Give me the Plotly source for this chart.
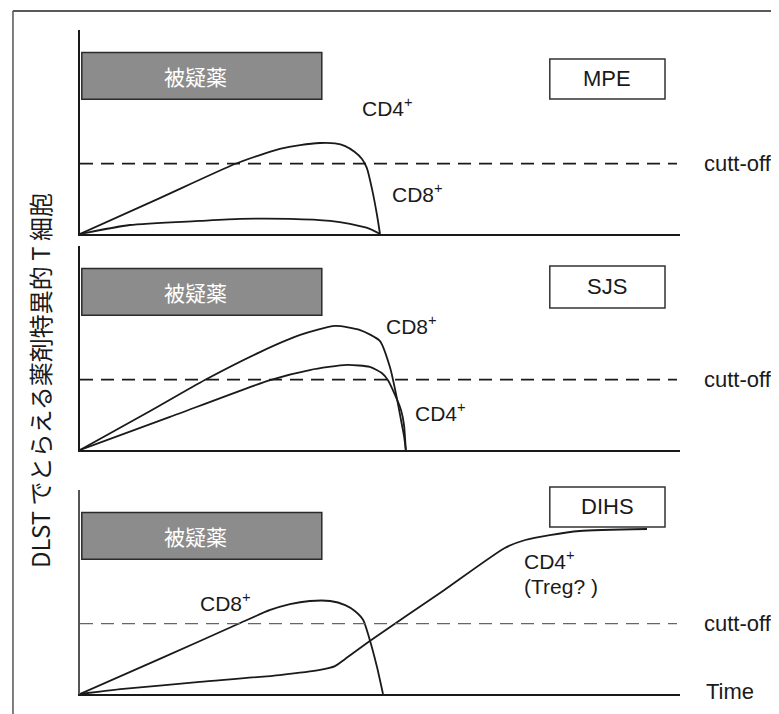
import plotly.graph_objects as go

# ---------------- data (x: time 0-100, y: DLST response 0-10 per panel) ----------------
panel_names = ["MPE", "SJS", "DIHS"]
cutoff = 3.45
drug_label = "被疑薬"
drug_x = [0.3, 40.3]
drug_y = [6.6, 8.9]

mpe_cd4_x = [0, 13.3, 25.8, 30, 33.3, 36.7, 40, 42.5, 44.2, 45.8, 47, 47.8, 48.7, 49.5, 50]
mpe_cd4_y = [0, 1.76, 3.43, 3.87, 4.17, 4.36, 4.46, 4.44, 4.31, 4.02, 3.68, 3.24, 2.16, 0.93, 0]
mpe_cd8_x = [0, 8.3, 20, 26.7, 35, 41.7, 45, 48.3, 50]
mpe_cd8_y = [0, 0.44, 0.64, 0.74, 0.74, 0.64, 0.49, 0.25, 0]

sjs_cd8_x = [0, 11.7, 20.8, 30, 36.7, 42.5, 46.7, 50, 51.7, 52.7, 53.5, 54, 54.3]
sjs_cd8_y = [0, 1.91, 3.43, 4.80, 5.64, 6.08, 5.88, 5.34, 4.02, 2.70, 1.47, 0.69, 0]
sjs_cd4_x = [0, 15, 31.7, 38.3, 44.5, 48.3, 50.3, 51.3, 52.5, 53.5, 54, 54.3]
sjs_cd4_y = [0, 1.62, 3.43, 3.92, 4.17, 4.07, 3.77, 3.43, 2.70, 1.96, 1.23, 0]

dihs_cd8_x = [0, 13.3, 26.7, 31.7, 35, 38.3, 41.7, 44.2, 45.8, 47.2, 48.3, 49.5, 50.5]
dihs_cd8_y = [0, 1.72, 3.48, 4.12, 4.41, 4.56, 4.56, 4.36, 4.07, 3.63, 2.65, 1.32, 0]
dihs_cd4_x = [0, 7.2, 20, 33.3, 40, 42.5, 44.2, 48.3, 60, 70.8, 74.2, 78.3, 83.3, 94.5]
dihs_cd4_y = [0, 0.25, 0.59, 0.93, 1.18, 1.37, 1.72, 2.60, 4.95, 7.16, 7.55, 7.79, 7.99, 8.09]

# label positions (data units)
labels = [
    # panel index, x, y, text, anchor
    (0, 51.3, 6.23, "CD4<sup>+</sup>", "center"),
    (0, 56.3, 2.0, "CD8<sup>+</sup>", "center"),
    (1, 55.2, 6.13, "CD8<sup>+</sup>", "center"),
    (1, 60.0, 1.86, "CD4<sup>+</sup>", "center"),
    (2, 24.2, 4.53, "CD8<sup>+</sup>", "center"),
    (2, 73.7, 6.55, "CD4<sup>+</sup>", "left"),
    (2, 73.7, 5.28, "(Treg? )", "left"),
]
name_box_x = [78.3, 97.5]
name_box_y = [[0.662, 0.858], [0.696, 0.902], [0.819, 1.015]]  # fraction of panel height

y_title = "DLST でとらえる薬剤特異的 T 細胞"
x_title = "Time"

# ---------------- figure ----------------
LAT = "Liberation Sans, Arial, Noto Sans CJK JP"
CJK = "Noto Sans CJK JP, Liberation Sans"

domains = [[0.6928, 1.0], [0.3675, 0.6747], [0.0, 0.3072]]
series = [
    [(mpe_cd4_x, mpe_cd4_y), (mpe_cd8_x, mpe_cd8_y)],
    [(sjs_cd8_x, sjs_cd8_y), (sjs_cd4_x, sjs_cd4_y)],
    [(dihs_cd8_x, dihs_cd8_y), (dihs_cd4_x, dihs_cd4_y)],
]

fig = go.Figure()
layout = dict(
    width=771, height=706,
    margin=dict(l=72, r=99, t=22, b=20),
    paper_bgcolor="white", plot_bgcolor="white",
    showlegend=False,
    font=dict(family=LAT, size=20, color="#1a1a1a"),
)
shapes = []
annotations = []

for i in range(3):
    sfx = "" if i == 0 else str(i + 1)
    xa, ya = "x" + sfx, "y" + sfx
    layout["xaxis" + sfx] = dict(
        domain=[0, 1], range=[0, 100], anchor=ya, showticklabels=False, ticks="",
        showgrid=False, zeroline=False, showline=True, linecolor="#1a1a1a", linewidth=1.6,
        fixedrange=True,
    )
    layout["yaxis" + sfx] = dict(
        domain=domains[i], range=[0, 10], anchor=xa, showticklabels=False, ticks="",
        showgrid=False, zeroline=False, showline=True,
        linecolor="#1a1a1a" if i < 2 else "#555555", linewidth=1.6, fixedrange=True,
    )
    for sx, sy in series[i]:
        fig.add_trace(go.Scatter(
            x=sx, y=sy, mode="lines", xaxis=xa, yaxis=ya,
            line=dict(color="#1a1a1a", width=1.8, shape="spline", smoothing=0.6),
            hoverinfo="skip",
        ))
    # suspected drug bar
    shapes.append(dict(type="rect", xref=xa, yref=ya, x0=drug_x[0], x1=drug_x[1],
                       y0=drug_y[0], y1=drug_y[1], fillcolor="#8c8c8c",
                       line=dict(color="#2a2a2a", width=1.5), layer="above"))
    annotations.append(dict(xref=xa, yref=ya, x=19.2,
                            y=(drug_y[0] + drug_y[1]) / 2, text=drug_label, showarrow=False,
                            xanchor="center", yanchor="middle",
                            font=dict(family=CJK, size=21, color="white")))
    # cutoff
    shapes.append(dict(type="line", xref=xa, yref=ya, x0=0, x1=99.5, y0=cutoff, y1=cutoff,
                       line=dict(color="#1a1a1a" if i < 2 else "#666666",
                                 width=1.6 if i < 2 else 1.3, dash="13px,8px")))
    annotations.append(dict(xref=xa + " domain", yref=ya, x=1.036, y=cutoff, text="cutt-off",
                            showarrow=False, xanchor="left", yanchor="middle",
                            font=dict(size=22)))
    # disease name box
    yd = ya + " domain"
    shapes.append(dict(type="rect", xref=xa, yref=yd, x0=name_box_x[0], x1=name_box_x[1],
                       y0=name_box_y[i][0], y1=name_box_y[i][1], fillcolor="white",
                       line=dict(color="#333333", width=1.5)))
    annotations.append(dict(xref=xa, yref=yd, x=(name_box_x[0] + name_box_x[1]) / 2,
                            y=(name_box_y[i][0] + name_box_y[i][1]) / 2, text=panel_names[i],
                            showarrow=False, xanchor="center", yanchor="middle",
                            font=dict(size=22)))

for p, lx, ly, txt, anc in labels:
    sfx = "" if p == 0 else str(p + 1)
    annotations.append(dict(xref="x" + sfx, yref="y" + sfx, x=lx, y=ly, text=txt,
                            showarrow=False, xanchor=anc, yanchor="middle",
                            font=dict(size=21)))

annotations.append(dict(xref="x3 domain", yref="y3", x=1.040, y=0.1, text=x_title,
                        showarrow=False, xanchor="left", yanchor="middle",
                        font=dict(size=22)))
annotations.append(dict(xref="paper", yref="paper", x=-0.0667, y=0.473, text=y_title,
                        textangle=-90, showarrow=False, xanchor="center", yanchor="middle",
                        font=dict(family=CJK, size=24)))

# scanned figure frame (top and left edges)
shapes.append(dict(type="line", xref="paper", yref="paper", x0=-0.112, x1=1.2,
                   y0=1.0286, y1=1.0286, line=dict(color="#222222", width=1.5)))
shapes.append(dict(type="line", xref="paper", yref="paper", x0=-0.1117, x1=-0.1117,
                   y0=1.0286, y1=-0.05, line=dict(color="#555555", width=1.5)))

layout["shapes"] = shapes
layout["annotations"] = annotations
fig.update_layout(**layout)
fig.write_html("out.html")
